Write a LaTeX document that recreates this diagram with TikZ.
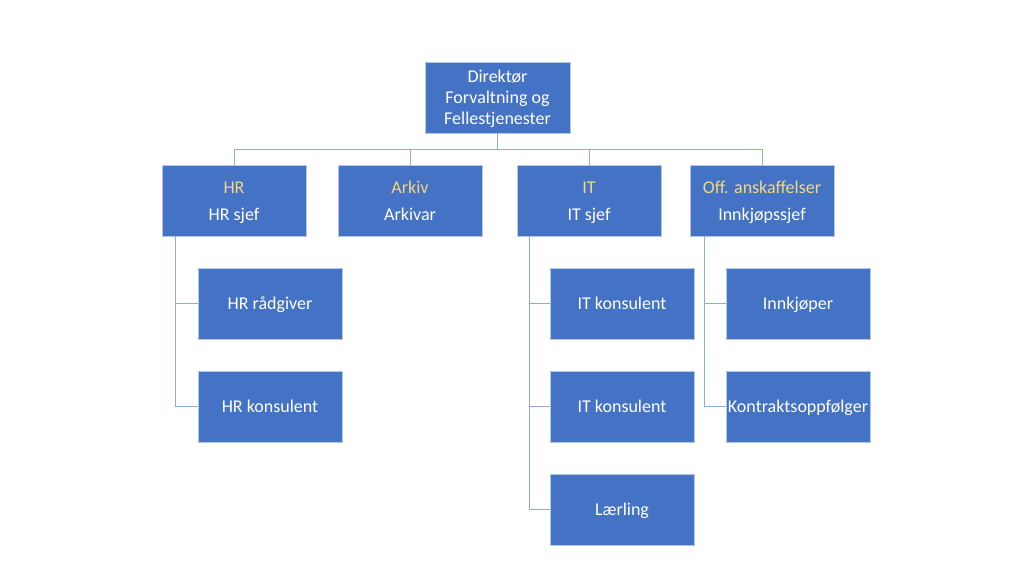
\documentclass[tikz,border=0pt]{standalone}
\usepackage{fontspec}
\setmainfont{Carlito}
\usetikzlibrary{calc, positioning}

\definecolor{boxblue}{HTML}{4472C4}
\definecolor{boxedge}{HTML}{B4C7E7}
\definecolor{linkblue}{HTML}{8FAADC}
\definecolor{unitgold}{HTML}{F5D77F}

% first line strut, a little taller than \strut
\newcommand{\topstrut}{\rule{0pt}{18.7pt}}

\begin{document}
\begin{tikzpicture}[
    x=1pt, y=-1pt,
    font=\fontsize{18}{21}\selectfont,
    unit/.style={draw=boxedge, line width=0.8pt, fill=boxblue, text=white,
        minimum width=144pt, minimum height=71pt, inner sep=1pt, align=center},
    staff/.style={unit, text height=14pt, text depth=2pt},
    link/.style={draw=linkblue, line width=1pt}
]

    % Page frame
    \useasboundingbox[fill=white] (0, 0) rectangle (1024, 576);

    % Director
    \node[unit, minimum width=145pt] (dir) at (497.5, 97.5)
        {\topstrut Direktør\\\strut Forvaltning og\\\strut Fellestjenester};

    % Departments
    \node[unit] (hr) at (234, 200.5)
        {\topstrut\textcolor{unitgold}{HR}\\[6pt]\strut HR sjef};
    \node[unit] (arkiv) at (410, 200.5)
        {\topstrut\textcolor{unitgold}{Arkiv}\\[6pt]\strut Arkivar};
    \node[unit] (it) at (589, 200.5)
        {\topstrut\textcolor{unitgold}{IT}\\[6pt]\strut IT sjef};
    \node[unit] (off) at (762, 200.5)
        {\topstrut\textcolor{unitgold}{Off. anskaffelser}\\[6pt]\strut Innkjøpssjef};

    % Staff
    \node[staff] (hrr) at (270, 303.5) {HR rådgiver};
    \node[staff] (hrk) at (270, 406.5) {HR konsulent};
    \node[staff] (itk1) at (622, 303.5) {IT konsulent};
    \node[staff] (itk2) at (622, 406.5) {IT konsulent};
    \node[staff] (itl) at (622, 509.5) {Lærling};
    \node[staff] (offi) at (798, 303.5) {Innkjøper};
    \node[staff] (offk) at (798, 406.5) {Kontraktsoppfølger};

    % Bus below director
    \coordinate (bus) at (497.5, 149);
    \foreach \dept in {hr, arkiv, it, off}
        \draw[link] (dir.south) -- (bus) -| (\dept.north);

    % Staff links
    \coordinate (hrrail) at ($(hr.south west)+(14,0)$);
    \coordinate (itrail) at ($(it.south west)+(13,0)$);
    \coordinate (offrail) at ($(off.south west)+(15,0)$);
    \foreach \staff in {hrr, hrk}
        \draw[link] (hrrail) |- (\staff.west);
    \foreach \staff in {itk1, itk2, itl}
        \draw[link] (itrail) |- (\staff.west);
    \foreach \staff in {offi, offk}
        \draw[link] (offrail) |- (\staff.west);

\end{tikzpicture}
\end{document}
